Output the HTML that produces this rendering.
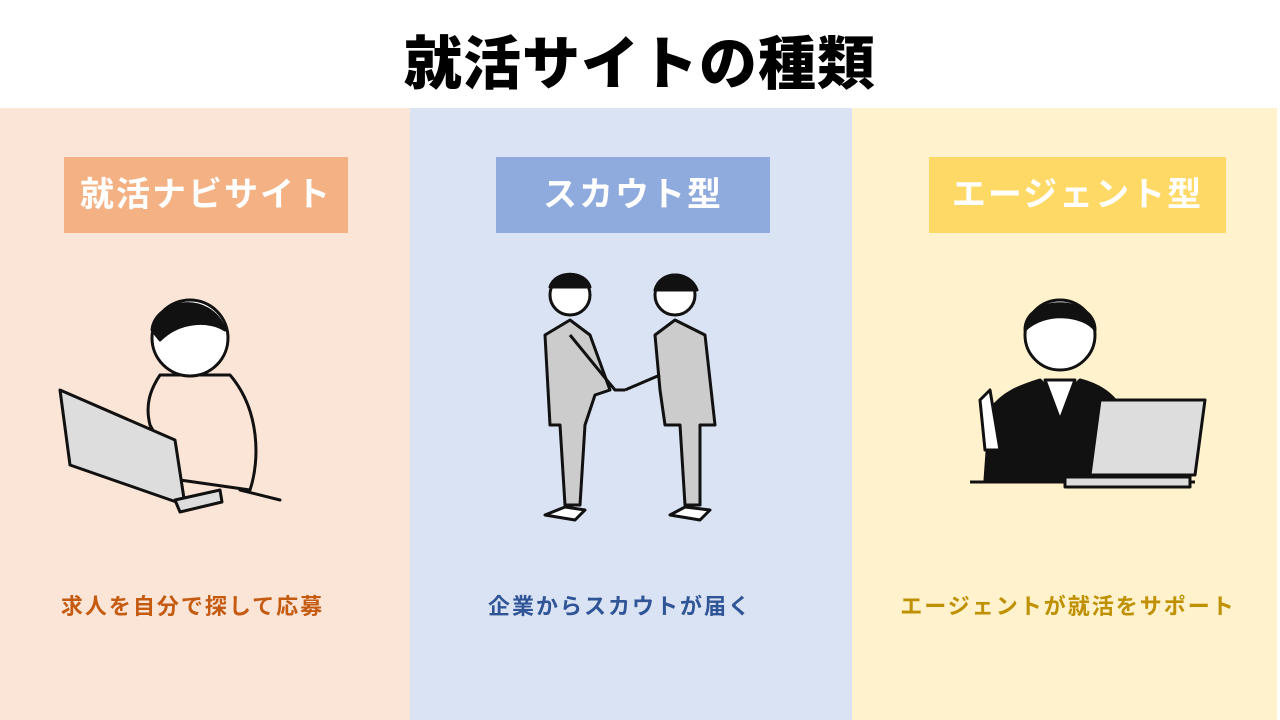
<!DOCTYPE html>
<html><head><meta charset="utf-8"><style>
body{margin:0;width:1280px;height:720px;position:relative;background:#fff;overflow:hidden;font-family:"Liberation Sans","Noto Sans CJK JP",sans-serif;}
.t{position:absolute;left:0;width:1280px;top:17px;text-align:center;font-size:58px;font-weight:900;color:#000;letter-spacing:1px}
.p{position:absolute;top:108px;height:612px}
.b{position:absolute;top:157px;height:76px;color:#fff;font-weight:bold;font-size:34px;line-height:76px;text-align:center;letter-spacing:2px}
.c{position:absolute;top:589px;font-weight:bold;font-size:22px;text-align:center;letter-spacing:2px;white-space:nowrap}
svg{position:absolute}
</style></head><body>
<div class="t">就活サイトの種類</div>
<div class="p" style="left:0;width:410px;background:#fbe5d6"></div>
<div class="p" style="left:410px;width:442px;background:#dae3f3"></div>
<div class="p" style="left:852px;width:425px;background:#fff2cc"></div>
<div class="b" style="left:64px;width:284px;background:#f4b183">就活ナビサイト</div>
<div class="b" style="left:496px;width:274px;background:#8faadc">スカウト型</div>
<div class="b" style="left:929px;width:297px;background:#ffd966">エージェント型</div>
<div class="c" style="left:40px;width:305px;color:#c55a11">求人を自分で探して応募</div>
<div class="c" style="left:470px;width:300px;color:#2f5597">企業からスカウトが届く</div>
<div class="c" style="left:890px;width:356px;color:#bf9000">エージェントが就活をサポート</div>

<svg style="left:50px;top:290px" width="240" height="240" viewBox="0 0 240 240" fill="none" stroke="#111" stroke-width="3" stroke-linejoin="round" stroke-linecap="round">
<path d="M110 85 C100 100 95 115 100 135 L130 190 L200 200 C210 170 210 120 180 85 Z" fill="#fbe5d6"/>
<circle cx="140" cy="48" r="38" fill="#fff"/>
<path d="M102 40 C105 10 160 0 175 40 C160 30 130 30 110 50 Z" fill="#111"/>
<path d="M10 100 L125 150 L135 215 L20 175 Z" fill="#ddd"/>
<path d="M125 210 L170 200 L172 212 L130 222 Z" fill="#ddd"/>
<path d="M190 200 L230 210"/>
</svg>

<svg style="left:525px;top:265px" width="200" height="270" viewBox="0 0 200 270" fill="#ccc" stroke="#111" stroke-width="3" stroke-linejoin="round">
<circle cx="45" cy="30" r="20" fill="#fff"/>
<path d="M25 22 C30 5 60 5 65 22 Z" fill="#111"/>
<path d="M20 70 L45 55 L65 70 L85 125 L70 130 L60 160 L55 240 L40 240 L35 160 L25 160 Z"/>
<path d="M45 70 L90 125 L100 125" fill="none"/>
<path d="M20 250 L50 255 L60 245 L40 242 Z" fill="#fff"/>
<circle cx="150" cy="30" r="20" fill="#fff"/>
<path d="M130 25 C135 5 165 5 172 25 Z" fill="#111"/>
<path d="M130 70 L150 55 L180 70 L190 160 L175 160 L175 240 L160 240 L155 160 L140 160 L135 125 Z"/>
<path d="M135 110 L100 125" fill="none"/>
<path d="M145 250 L175 255 L185 245 L160 242 Z" fill="#fff"/>
</svg>

<svg style="left:965px;top:290px" width="250" height="200" viewBox="0 0 250 200" stroke="#111" stroke-width="3" stroke-linejoin="round">
<path d="M20 190 L25 120 C40 100 60 95 75 90 L95 110 L115 90 C135 95 150 105 160 125 L160 190 Z" fill="#111"/>
<path d="M80 90 L95 130 L110 90 Z" fill="#fff"/>
<circle cx="95" cy="45" r="35" fill="#fff"/>
<path d="M60 40 C60 5 130 5 130 40 C120 25 80 20 60 40 Z" fill="#111"/>
<path d="M20 160 L15 110 L25 100 L35 160 Z" fill="#fff"/>
<path d="M135 110 L240 110 L230 185 L125 185 Z" fill="#ddd"/>
<path d="M5 192 L230 192" fill="none"/>
<rect x="100" y="187" width="125" height="10" fill="#ddd"/>
</svg>
</body></html>
